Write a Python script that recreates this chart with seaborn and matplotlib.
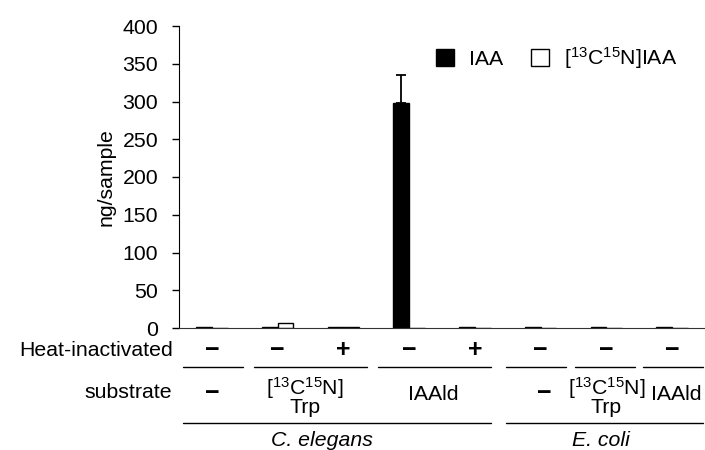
import numpy as np
import pandas as pd
import seaborn as sns
import matplotlib.pyplot as plt
import matplotlib.transforms as mtransforms
from matplotlib.patches import Patch

# data
groups = ["g1", "g2", "g3", "g4", "g5", "g6", "g7", "g8"]
iaa = [1.5, 1.5, 1.5, 298, 1.5, 1.5, 1.5, 1.5]
iaa_err = [0, 0, 0, 37, 0, 0, 0, 0]
labeled = [0, 6, 1, 0, 0, 0, 0, 0]
heat = ["−", "−", "+", "−", "+", "−", "−", "−"]
substrate_labels = ["−", "[$^{13}$C$^{15}$N]\nTrp", "IAAld", "−", "[$^{13}$C$^{15}$N]\nTrp", "IAAld"]
substrate_x = [0.0, 1.42, 3.36, 5.05, 6.0, 7.06]
heat_lines = [(-0.44, 0.47), (0.64, 2.36), (2.53, 4.24), (4.48, 5.38), (5.53, 6.44), (6.56, 7.47)]
organisms = ["C. elegans", "E. coli"]
organism_x = [1.67, 5.92]
organism_lines = [(-0.44, 4.24), (4.48, 7.47)]

sns.set_style("white")
plt.rcParams["font.family"] = ["Liberation Sans", "DejaVu Sans"]
plt.rcParams["mathtext.fontset"] = "custom"
plt.rcParams["mathtext.rm"] = "Liberation Sans"
plt.rcParams["mathtext.it"] = "Liberation Sans:italic"
for k in ["text.color", "axes.labelcolor", "xtick.color", "ytick.color"]:
    plt.rcParams[k] = "black"
fs = 15.3

df = pd.DataFrame({
    "group": groups * 2,
    "value": iaa + labeled,
    "compound": ["IAA"] * 8 + ["13C15N"] * 8,
})

fig = plt.figure(figsize=(7.05, 4.5), dpi=100)
ax = fig.add_axes([179 / 705, 1 - 328 / 450, 1 - 179 / 705, (328 - 26) / 450])

sns.barplot(data=df, x="group", y="value", hue="compound", order=groups,
            palette=["black", "white"], edgecolor="black", linewidth=1,
            width=0.48, gap=0, errorbar=None, legend=False, ax=ax)

# upper error bars only
for bar, err in zip(ax.containers[0], iaa_err):
    if err > 0:
        xc = bar.get_x() + bar.get_width() / 2
        ax.errorbar([xc], [bar.get_height()], yerr=[[0], [err]], fmt="none",
                    ecolor="black", elinewidth=1.3, capsize=3.3, capthick=1.3)

ax.set_xlim(-0.5, 7.5)
ax.set_ylim(0, 400)
ax.set_yticks(np.arange(0, 401, 50))
ax.set_xticks([])
ax.set_xlabel("")
ax.set_ylabel("ng/sample", fontsize=fs, labelpad=5)
ax.tick_params(axis="y", labelsize=fs, length=5, width=1, pad=10, direction="out", left=True, color="black")
for s in ["top", "right"]:
    ax.spines[s].set_visible(False)
ax.spines["left"].set_color("black")
ax.spines["bottom"].set_color("#333333")

handles = [Patch(facecolor="black", edgecolor="black", label="IAA"),
           Patch(facecolor="white", edgecolor="black", label="[$^{13}$C$^{15}$N]IAA")]
ax.legend(handles=handles, ncol=2, frameon=False, fontsize=fs, loc="center right",
          bbox_to_anchor=(677 / 705, 1 - 58 / 450), bbox_transform=fig.transFigure,
          handlelength=0.85, handleheight=0.85, handletextpad=0.7, columnspacing=1.3,
          borderpad=0, borderaxespad=0)

# table below the axis
tr = mtransforms.blended_transform_factory(ax.transData, fig.transFigure)

def fy(py):
    return 1 - py / 450

fig.text(173 / 705, fy(351), "Heat-inactivated", ha="right", va="center", fontsize=fs)
fig.text(172 / 705, fy(393), "substrate", ha="right", va="center", fontsize=fs)

for i, s in enumerate(heat):
    ax.text(i, fy(350), s, transform=tr, ha="center", va="center",
            fontsize=18, fontweight="bold")

for x0, x1 in heat_lines:
    ax.plot([x0, x1], [fy(367), fy(367)], transform=tr, color="black", lw=1, clip_on=False)

for x, s in zip(substrate_x, substrate_labels):
    if s == "−":
        ax.text(x, fy(393), s, transform=tr, ha="center", va="center",
                fontsize=18, fontweight="bold")
    elif s == "IAAld":
        ax.text(x, fy(394), s, transform=tr, ha="center", va="center", fontsize=fs)
    else:
        ax.text(x, fy(396), s, transform=tr, ha="center", va="center",
                fontsize=fs, linespacing=0.8)

for x0, x1 in organism_lines:
    ax.plot([x0, x1], [fy(423), fy(423)], transform=tr, color="black", lw=1, clip_on=False)

for x, s in zip(organism_x, organisms):
    ax.text(x, fy(440), s, transform=tr, ha="center", va="center",
            fontsize=fs, style="italic")

fig.savefig("out.png", dpi=100)
